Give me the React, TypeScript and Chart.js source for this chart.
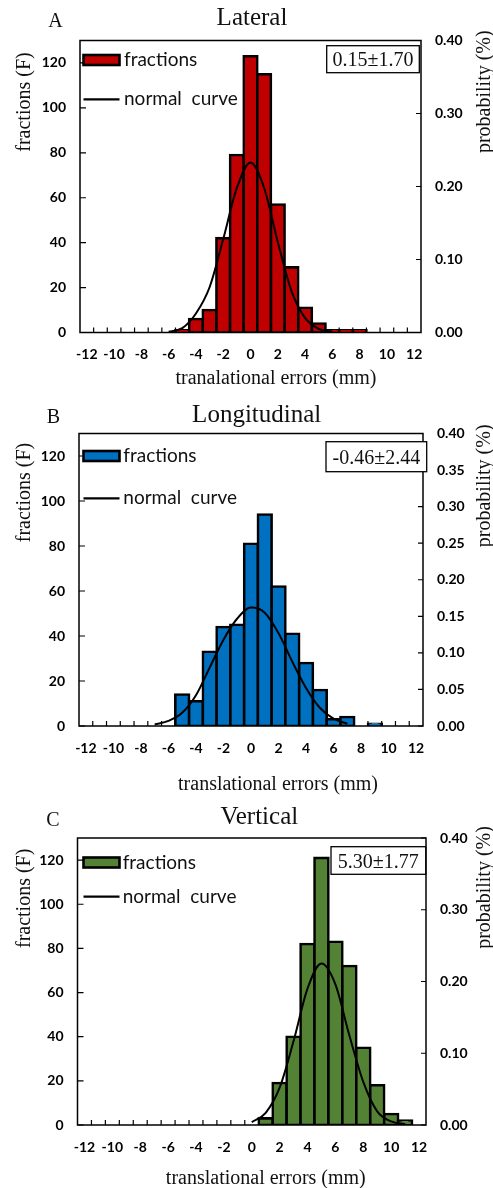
import React, { useEffect, useRef } from "react";
import { Chart, registerables } from "chart.js";

Chart.register(...registerables);

// ---------- data ----------
const categories = [-12, -11, -10, -9, -8, -7, -6, -5, -4, -3, -2, -1, 0, 1, 2, 3, 4, 5, 6, 7, 8, 9, 10, 11, 12];

const lateralCounts = [0, 0, 0, 0, 0, 0, 0, 1, 6, 10, 42, 79, 123, 115, 57, 29, 11, 4, 1, 1, 1, 0, 0, 0, 0];
const lateralCurve = [null, null, null, null, null, null, 0.001, 0.006, 0.026, 0.062, 0.128, 0.198, 0.233, 0.198, 0.124, 0.057, 0.02, 0.005, 0.001, null, null, null, null, null, null];

const longitudinalCounts = [0, 0, 0, 0, 0, 0, 0, 14, 11, 33, 44, 45, 81, 94, 62, 41, 28, 16, 3, 4, 0, 1, 0, 0, 0];
const longitudinalCurve = [null, null, null, null, null, 0.002, 0.007, 0.018, 0.042, 0.08, 0.118, 0.147, 0.162, 0.155, 0.127, 0.088, 0.052, 0.025, 0.01, 0.003, null, null, null, null, null];

const verticalCounts = [0, 0, 0, 0, 0, 0, 0, 0, 0, 0, 0, 0, 0, 3, 19, 40, 82, 121, 83, 72, 35, 18, 5, 2, 0];
const verticalCurve = [null, null, null, null, null, null, null, null, null, null, null, null, 0.004, 0.017, 0.052, 0.117, 0.19, 0.225, 0.196, 0.125, 0.06, 0.019, 0.005, 0.001, null];

const countAxisMax = 130;
const countAxisStep = 20;
const probAxisMax = 0.4;

const seriesLabels = ["fractions", "normal  curve"];
const leftAxisTitle = "fractions (F)";
const rightAxisTitle = "probability (%)";

// ---------- panel configuration ----------
type PanelCfg = {
  letter: string;
  title: string;
  xTitle: string;
  stat: string;
  color: string;
  counts: number[];
  curve: (number | null)[];
  probStep: number;
  top: number;
  height: number;
  area: { left: number; right: number; top: number; bottom: number };
  letterPos: [number, number];
  titlePos: [number, number];
  xTitlePos: [number, number];
  leftTitleY: number;
  rightTitleY: number;
  legendY: [number, number];
  legendTextX: number;
  statBox: [number, number, number, number];
};

const panels: PanelCfg[] = [
  {
    letter: "A",
    title: "Lateral",
    xTitle: "tranalational errors (mm)",
    stat: "0.15\u00b11.70",
    color: "#C00000",
    counts: lateralCounts,
    curve: lateralCurve,
    probStep: 0.1,
    top: 0,
    height: 395,
    area: { left: 80, right: 421, top: 40.5, bottom: 332.5 },
    letterPos: [55.5, 26.7],
    titlePos: [252, 25.3],
    xTitlePos: [276, 384],
    leftTitleY: 102,
    rightTitleY: 91.7,
    legendY: [60, 99.3],
    legendTextX: 124,
    statBox: [326.7, 45.7, 419.3, 72.7],
  },
  {
    letter: "B",
    title: "Longitudinal",
    xTitle: "translational errors (mm)",
    stat: "-0.46\u00b12.44",
    color: "#0070C0",
    counts: longitudinalCounts,
    curve: longitudinalCurve,
    probStep: 0.05,
    top: 395,
    height: 405,
    area: { left: 79, right: 423, top: 38.5, bottom: 331 },
    letterPos: [53.3, 28.3],
    titlePos: [256.7, 26.7],
    xTitlePos: [278, 395],
    leftTitleY: 97.5,
    rightTitleY: 90.8,
    legendY: [61, 103.3],
    legendTextX: 123.3,
    statBox: [326, 46.7, 426.7, 76.7],
  },
  {
    letter: "C",
    title: "Vertical",
    xTitle: "translational errors (mm)",
    stat: "5.30\u00b11.77",
    color: "#548235",
    counts: verticalCounts,
    curve: verticalCurve,
    probStep: 0.1,
    top: 800,
    height: 388,
    area: { left: 77.5, right: 426, top: 38, bottom: 325 },
    letterPos: [52.8, 25.7],
    titlePos: [259.3, 24.3],
    xTitlePos: [265.8, 384],
    leftTitleY: 98.3,
    rightTitleY: 87.5,
    legendY: [62.5, 96.7],
    legendTextX: 122.7,
    statBox: [331, 46.7, 425.7, 74.3],
  },
];

const SERIF = '"Liberation Serif", "Times New Roman", serif';
const SANS = 'Lato, "Open Sans", sans-serif';
const TEXT = "#111";

function makeDecor(cfg: PanelCfg) {
  return {
    id: "decor" + cfg.letter,
    afterDraw(chart: any) {
      const { ctx, chartArea: a, scales } = chart;
      const xs = scales.x;
      const ys = scales.y;
      const y1 = scales.y1;
      ctx.save();

      // inner tick marks
      ctx.strokeStyle = "#000";
      ctx.lineWidth = 1.2;
      ctx.beginPath();
      for (let i = 1; i < categories.length; i++) {
        const px = (xs.getPixelForValue(i - 1) + xs.getPixelForValue(i)) / 2;
        ctx.moveTo(px, a.bottom);
        ctx.lineTo(px, a.bottom - 5);
      }
      for (const t of ys.ticks) {
        const py = ys.getPixelForValue(t.value);
        ctx.moveTo(a.left, py);
        ctx.lineTo(a.left + 6, py);
      }
      for (const t of y1.ticks) {
        const py = y1.getPixelForValue(t.value);
        ctx.moveTo(a.right, py);
        ctx.lineTo(a.right - 5, py);
      }
      ctx.stroke();

      // plot frame
      ctx.lineWidth = 1.5;
      ctx.strokeRect(a.left, a.top, a.right - a.left, a.bottom - a.top);

      // legend
      const lineDs = chart.data.datasets[0];
      const barDs = chart.data.datasets[1];
      const sx = 83.5, sw = 36, sh = 10;
      ctx.fillStyle = barDs.backgroundColor;
      ctx.fillRect(sx, cfg.legendY[0] - sh / 2, sw, sh);
      ctx.lineWidth = 2.6;
      ctx.strokeStyle = "#000";
      ctx.strokeRect(sx, cfg.legendY[0] - sh / 2, sw, sh);
      ctx.beginPath();
      ctx.lineWidth = 2.2;
      ctx.moveTo(sx, cfg.legendY[1]);
      ctx.lineTo(sx + sw, cfg.legendY[1]);
      ctx.stroke();
      ctx.fillStyle = TEXT;
      ctx.font = "19px " + SANS;
      ctx.textAlign = "left";
      ctx.textBaseline = "middle";
      ctx.fillText(barDs.label, cfg.legendTextX, cfg.legendY[0]);
      ctx.fillText(lineDs.label, cfg.legendTextX, cfg.legendY[1]);

      // stats box
      const [bx0, by0, bx1, by1] = cfg.statBox;
      ctx.fillStyle = "#fff";
      ctx.fillRect(bx0, by0, bx1 - bx0, by1 - by0);
      ctx.lineWidth = 1.3;
      ctx.strokeRect(bx0, by0, bx1 - bx0, by1 - by0);
      ctx.fillStyle = TEXT;
      ctx.font = "20px " + SERIF;
      ctx.textAlign = "center";
      ctx.textBaseline = "alphabetic";
      ctx.fillText(cfg.stat, (bx0 + bx1) / 2, (by0 + by1) / 2 + 7);

      // panel letter and title
      ctx.font = "20px " + SERIF;
      ctx.fillText(cfg.letter, cfg.letterPos[0], cfg.letterPos[1]);
      ctx.font = "25px " + SERIF;
      ctx.fillText(cfg.title, cfg.titlePos[0], cfg.titlePos[1]);

      // x-axis title
      ctx.font = "20px " + SERIF;
      ctx.fillText(cfg.xTitle, cfg.xTitlePos[0], cfg.xTitlePos[1]);

      // left and right axis titles (reading bottom to top)
      ctx.save();
      ctx.translate(30, cfg.leftTitleY);
      ctx.rotate(-Math.PI / 2);
      ctx.fillText(leftAxisTitle, 0, 0);
      ctx.restore();
      ctx.save();
      ctx.translate(490, cfg.rightTitleY);
      ctx.rotate(-Math.PI / 2);
      ctx.fillText(rightAxisTitle, 0, 0);
      ctx.restore();

      ctx.restore();
    },
  };
}

function Panel({ cfg }: { cfg: PanelCfg }) {
  const ref = useRef<HTMLCanvasElement | null>(null);
  useEffect(() => {
    const canvas = ref.current;
    if (!canvas) return;
    const a = cfg.area;
    const tickFont = (size: number) => ({ family: SANS, weight: "bold" as const, size });
    const chart = new Chart(canvas, {
      type: "bar",
      data: {
        labels: categories.map(String),
        datasets: [
          {
            type: "line",
            label: seriesLabels[1],
            data: cfg.curve,
            yAxisID: "y1",
            borderColor: "#000",
            borderWidth: 2,
            pointRadius: 0,
            cubicInterpolationMode: "monotone",
            fill: false,
            spanGaps: false,
            order: 0,
          } as any,
          {
            type: "bar",
            label: seriesLabels[0],
            data: cfg.counts.map((v) => (v === 0 ? null : v)),
            yAxisID: "y",
            backgroundColor: cfg.color,
            borderColor: "#000",
            borderWidth: 2.6,
            inflateAmount: 1.3,
            borderSkipped: false,
            barPercentage: 1,
            categoryPercentage: 1,
            order: 1,
          } as any,
        ],
      },
      options: {
        responsive: false,
        animation: false,
        events: [],
        layout: {
          padding: { left: 0, right: 0, top: a.top, bottom: cfg.height - a.bottom - 30 },
        },
        plugins: {
          legend: { display: false },
          title: { display: false },
          tooltip: { enabled: false },
        },
        scales: {
          x: {
            type: "category",
            offset: true,
            grid: { display: false, drawTicks: false },
            border: { display: false },
            ticks: {
              autoSkip: false,
              maxRotation: 0,
              minRotation: 0,
              padding: 14,
              color: "#000",
              font: tickFont(14),
              callback: (_v: any, i: number) => (categories[i] % 2 === 0 ? String(categories[i]) : ""),
            },
            afterFit: (s: any) => {
              s.height = 30;
            },
          },
          y: {
            position: "left",
            min: 0,
            max: countAxisMax,
            grid: { display: false, drawTicks: false },
            border: { display: false },
            ticks: {
              stepSize: countAxisStep,
              includeBounds: false,
              padding: 14,
              color: "#000",
              font: tickFont(14),
            },
            afterFit: (s: any) => {
              s.width = a.left;
            },
          },
          y1: {
            position: "right",
            min: 0,
            max: probAxisMax,
            grid: { display: false, drawTicks: false },
            border: { display: false },
            ticks: {
              stepSize: cfg.probStep,
              padding: 14,
              color: "#000",
              font: tickFont(14),
              callback: (v: any) => Number(v).toFixed(2),
            },
            afterFit: (s: any) => {
              s.width = 493 - a.right;
            },
          },
        } as any,
      },
      plugins: [makeDecor(cfg)],
    });
    return () => chart.destroy();
  }, [cfg]);
  return (
    <canvas
      ref={ref}
      width={493}
      height={cfg.height}
      style={{ position: "absolute", left: 0, top: cfg.top, width: 493, height: cfg.height, display: "block" }}
    />
  );
}

export default function App() {
  return (
    <div style={{ position: "absolute", left: 0, top: 0, width: 493, height: 1188, background: "#fff", overflow: "hidden" }}>
      {panels.map((p) => (
        <Panel key={p.letter} cfg={p} />
      ))}
    </div>
  );
}
